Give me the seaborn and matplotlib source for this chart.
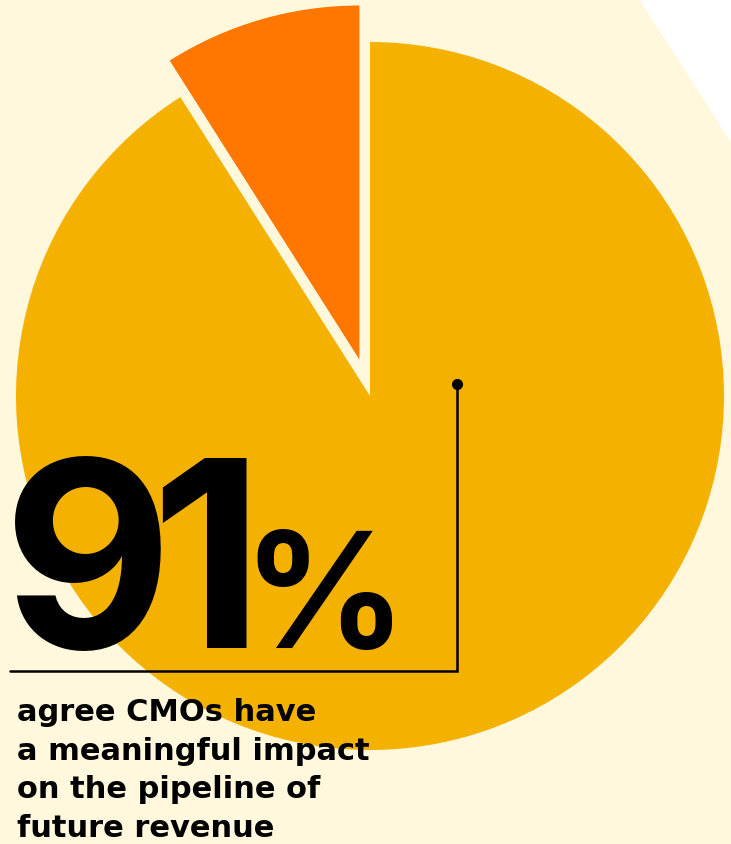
import matplotlib
matplotlib.use("Agg")
import matplotlib.pyplot as plt
import seaborn as sns
from matplotlib.patches import Polygon

# ---- data ----
categories = ["Other", "Agree"]
values = [9, 91]
headline_digits = ["9", "1"]
headline_unit = "%"
caption_lines = ["agree CMOs have", "a meaningful impact",
                 "on the pipeline of", "future revenue"]

sns.set_theme(style="white")
plt.rcParams["font.family"] = ["Inter", "DejaVu Sans"]

W, H = 731, 845
BG = "#FFF8DC"
YELLOW = "#F5B100"
ORANGE = "#FF7700"

fig = plt.figure(figsize=(W / 100, H / 100), dpi=100, facecolor=BG)
ax = fig.add_axes([0, 0, 1, 1])
ax.set_facecolor(BG)

# white corner
ax.add_patch(Polygon([(639, H), (W, H), (W, H - 143)], closed=True,
                     facecolor="white", edgecolor="none", zorder=0))

cx, cy, r = 370, H - 397, 354
ax.pie(values, colors=[ORANGE, YELLOW], startangle=90, counterclock=True,
       explode=[38, 0], radius=r, center=(cx, cy),
       wedgeprops=dict(linewidth=0), frame=True)

ax.set_xlim(0, W)
ax.set_ylim(0, H)
ax.set_aspect("auto")
ax.axis("off")

# connector line with dot
ax.plot([10, 457, 457], [H - 672, H - 672, H - 385], color="black",
        lw=1.8, solid_joinstyle="miter", zorder=5)
ax.plot([457], [H - 385], marker="o", color="black", markersize=7, zorder=6)

# headline
for ch, x in zip(headline_digits, [3, 150]):
    ax.text(x, H - 648, ch, fontsize=188, fontweight="bold",
            color="black", ha="left", va="baseline", zorder=7)
ax.text(242, H - 648, headline_unit, fontsize=116, fontweight="bold",
        color="black", ha="left", va="baseline", zorder=7)

# caption
baselines = [721, 760, 798, 837]
for line, b in zip(caption_lines, baselines):
    ax.text(17, H - b, line, fontsize=22, fontweight="bold", color="black",
            family="DejaVu Sans", ha="left", va="baseline", zorder=7)

fig.savefig("out.png", dpi=100, facecolor=BG)
